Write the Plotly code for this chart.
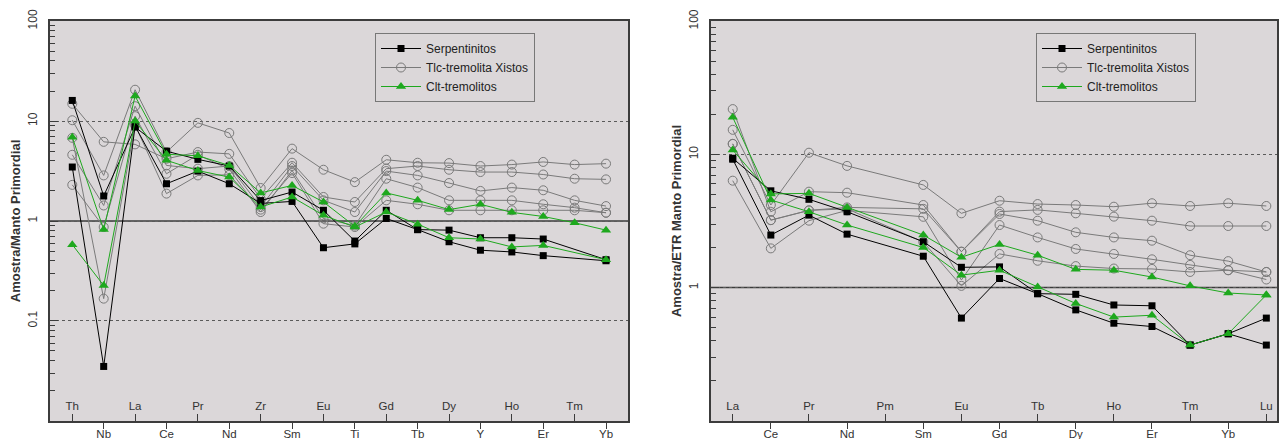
import plotly.graph_objects as go

# ---------------- data ----------------
SPIDER_ELEMENTS = ["Th", "Nb", "La", "Ce", "Pr", "Nd", "Zr", "Sm", "Eu", "Ti",
                   "Gd", "Tb", "Dy", "Y", "Ho", "Er", "Tm", "Yb"]
REE_ELEMENTS = ["La", "Ce", "Pr", "Nd", "Pm", "Sm", "Eu", "Gd", "Tb", "Dy",
                "Ho", "Er", "Tm", "Yb", "Lu"]

N = None
# Left: multi-element diagram normalised to primitive mantle
SPIDER_SERP = [
    [16.1, 1.78, 8.7, 5.0, 4.14, 3.55, 1.6, 1.95, 1.28, 0.63, 1.28, 0.82, 0.81, 0.68, 0.68, 0.66, N, 0.41],
    [3.47, 0.035, 8.9, 2.36, 3.16, 2.36, 1.5, 1.57, 0.54, 0.59, 1.06, 0.82, 0.62, 0.51, 0.49, 0.45, N, 0.40],
]
SPIDER_TLC = [
    [10.2, 2.86, 20.6, 4.9, 9.6, 7.6, 2.14, 5.3, 3.26, 2.45, 4.1, 3.83, 3.8, 3.55, 3.67, 3.9, 3.67, 3.75],
    [14.9, 6.2, 5.85, 4.2, 4.9, 4.7, 1.67, 3.83, 1.74, 1.55, 3.34, 3.55, 3.26, 3.09, 3.09, 2.92, 2.65, 2.61],
    [4.6, 1.43, 14.1, 3.6, 3.34, 3.55, 1.38, 3.55, 1.61, 1.23, 3.16, 2.86, 2.4, 2.0, 2.16, 2.03, 1.61, 1.41],
    [2.3, 0.87, 11.2, 2.97, 4.6, 3.3, 1.23, 3.2, 1.06, 0.9, 2.65, 2.16, 1.61, 1.61, 1.61, 1.47, 1.36, 1.21],
    [6.8, 0.167, 9.1, 1.88, 2.86, 2.9, 1.3, 3.02, 0.94, 0.87, 1.61, 1.47, 1.28, 1.28, 1.28, 1.28, 1.28, 1.21],
]
SPIDER_CLT = [
    [6.9, 0.82, 17.8, 4.65, 4.5, 3.6, 1.91, 2.27, 1.55, 0.885, 1.91, 1.61, 1.3, 1.47, 1.22, 1.11, 0.96, 0.81],
    [0.58, 0.226, 10.0, 4.05, 3.2, 2.75, 1.38, 1.74, 1.14, 0.87, 1.23, 0.93, 0.68, 0.66, 0.55, 0.57, N, 0.41],
]

# Right: REE diagram normalised to primitive mantle (Pm not analysed)
REE_SERP = [
    [9.36, 5.33, 4.6, 3.71, N, 2.21, 1.42, 1.43, 0.90, 0.89, 0.74, 0.73, 0.37, 0.45, 0.59],
    [9.2, 2.48, 3.5, 2.52, N, 1.72, 0.59, 1.17, 0.90, 0.68, 0.54, 0.51, 0.37, 0.45, 0.37],
]
REE_TLC = [
    [15.3, 4.17, 10.3, 8.2, N, 5.9, 3.61, 4.49, 4.24, 4.17, 4.05, 4.3, 4.1, 4.3, 4.1],
    [21.9, 3.71, 5.25, 5.16, N, 4.17, 1.86, 3.72, 3.83, 3.61, 3.41, 3.18, 2.9, 2.9, 2.9],
    [12.0, 3.21, 3.8, 4.0, N, 3.9, 1.86, 3.57, 3.18, 2.6, 2.38, 2.25, 1.75, 1.58, 1.31],
    [6.35, 1.97, 3.18, 3.8, N, 3.4, 1.14, 2.95, 2.38, 1.95, 1.79, 1.63, 1.48, 1.35, 1.15],
    [12.0, 3.21, 3.8, 3.9, N, 2.2, 1.03, 1.79, 1.59, 1.45, 1.39, 1.38, 1.31, 1.35, 1.31],
]
REE_CLT = [
    [19.0, 4.55, 3.71, 2.95, N, 2.0, 1.24, 1.35, 1.01, 0.76, 0.60, 0.62, 0.37, 0.45, 0.88],
    [10.8, 5.05, 5.1, 4.0, N, 2.48, 1.69, 2.11, 1.75, 1.37, 1.35, 1.2, 1.03, 0.91, 0.88],
]

GROUP_NAMES = ["Serpentinitos", "Tlc-tremolita Xistos", "Clt-tremolitos"]
REF_LEVEL = 1

# ---------------- style ----------------
FONT = "Liberation Sans, Arial, sans-serif"
PLOT_BG = "#dbd7d9"
GREEN = "#1ea81e"
STYLES = {
    "Serpentinitos": dict(line=dict(color="#000000", width=1),
                          marker=dict(symbol="square", size=7, color="#000000")),
    "Tlc-tremolita Xistos": dict(line=dict(color="#7a7a7a", width=1),
                                 marker=dict(symbol="circle-open", size=9, color="#7a7a7a",
                                             line=dict(width=1, color="#7a7a7a"))),
    "Clt-tremolitos": dict(line=dict(color=GREEN, width=1),
                           marker=dict(symbol="triangle-up", size=9, color=GREEN)),
}
RANK = {"Serpentinitos": 1, "Tlc-tremolita Xistos": 2, "Clt-tremolitos": 3}

fig = go.Figure()


def add_group(samples, elements, name, xa, ya, legend):
    xs = list(range(len(elements)))
    for i, vals in enumerate(samples):
        st = STYLES[name]
        fig.add_trace(go.Scatter(
            x=xs, y=vals, xaxis=xa, yaxis=ya, mode="lines+markers",
            name=name, legendgroup=legend + name, showlegend=(i == 0),
            legend=legend, legendrank=RANK[name], connectgaps=True,
            line=st["line"], marker=st["marker"], hoverinfo="skip"))


add_group(SPIDER_TLC, SPIDER_ELEMENTS, GROUP_NAMES[1], "x", "y", "legend")
add_group(SPIDER_SERP, SPIDER_ELEMENTS, GROUP_NAMES[0], "x", "y", "legend")
add_group(SPIDER_CLT, SPIDER_ELEMENTS, GROUP_NAMES[2], "x", "y", "legend")
add_group(REE_TLC, REE_ELEMENTS, GROUP_NAMES[1], "x2", "y2", "legend2")
add_group(REE_SERP, REE_ELEMENTS, GROUP_NAMES[0], "x2", "y2", "legend2")
add_group(REE_CLT, REE_ELEMENTS, GROUP_NAMES[2], "x2", "y2", "legend2")

W, H = 1279, 439
L_DOM = [50 / W, 628 / W]
R_DOM = [711 / W, 1277 / W]
L_RANGE = [-0.71, 17.7]
R_RANGE = [-0.57, 14.28]

tickfont = dict(family=FONT, size=12, color="#333333")
xtickfont = dict(family=FONT, size=11.5, color="#333333")
AX_LINE = dict(showline=True, linecolor="#3c3c3c", linewidth=1.5, mirror=True,
               automargin=False)


def x_outer(elements, domain, rng, anchor):
    idx = [i for i in range(len(elements)) if i % 2 == 1]
    return dict(domain=domain, range=rng, anchor=anchor, tickmode="array",
                tickvals=idx, ticktext=[elements[i] for i in idx],
                ticks="outside", ticklen=6, tickcolor="#3c3c3c", tickwidth=1.2,
                ticklabelstandoff=-5,
                showgrid=False, zeroline=False, tickfont=xtickfont, **AX_LINE)


def x_inner(elements, rng, over, anchor):
    idx = [i for i in range(len(elements)) if i % 2 == 0]
    return dict(overlaying=over, anchor=anchor, range=rng, tickmode="array",
                tickvals=idx, ticktext=[elements[i] for i in idx],
                ticks="inside", ticklen=7, tickcolor="#3c3c3c", tickwidth=1.2,
                ticklabelposition="inside", ticklabelstandoff=1,
                showgrid=False, zeroline=False,
                showline=False, automargin=False, tickfont=xtickfont)


def y_axis(rng, tickvals, ticktext, title, anchor):
    return dict(domain=[0, 1], type="log", range=rng, anchor=anchor,
                tickmode="array", tickvals=tickvals, ticktext=ticktext,
                tickangle=-90, ticks="inside", ticklen=8, tickcolor="#3c3c3c",
                minor=dict(ticks="inside", ticklen=5, tickcolor="#3c3c3c",
                           dtick="D1", showgrid=False),
                showgrid=True, gridcolor="#5a5a5a", griddash="dot", gridwidth=1,
                zeroline=False, tickfont=tickfont, ticklabelstandoff=6,
                title=dict(text="<b>" + title + "</b>", standoff=3,
                           font=dict(family=FONT, size=13, color="#333333")),
                **AX_LINE)


legend_common = dict(bgcolor=PLOT_BG, bordercolor="#777777", borderwidth=1,
                     font=dict(family=FONT, size=12, color="#222222"),
                     itemwidth=40, xanchor="left", yanchor="top",
                     tracegroupgap=0, traceorder="normal")

fig.update_layout(
    width=W, height=H,
    margin=dict(l=0, r=0, t=21, b=18, autoexpand=False),
    paper_bgcolor="white", plot_bgcolor=PLOT_BG,
    font=dict(family=FONT, size=12, color="#333333"),
    showlegend=True,
    xaxis=x_outer(SPIDER_ELEMENTS, L_DOM, L_RANGE, "y"),
    xaxis3=x_inner(SPIDER_ELEMENTS, L_RANGE, "x", "y"),
    xaxis2=x_outer(REE_ELEMENTS, R_DOM, R_RANGE, "y2"),
    xaxis4=x_inner(REE_ELEMENTS, R_RANGE, "x2", "y2"),
    yaxis=y_axis([-2.002, 2.002], [0.01, 0.1, 1, 10, 100],
                 ["0.01", "0.1", "1", "10", "100"],
                 "Amostra/Manto Primordial", "x"),
    yaxis2=y_axis([-1.002, 2.002], [0.1, 1, 10, 100], ["0.1", "1", "10", "100"],
                  "Amostra/ETR Manto Primordial", "x2"),
    legend=dict(x=375 / W, y=0.97, **legend_common),
    legend2=dict(x=1036 / W, y=0.97, **legend_common),
)

# reference line at the normalisation level (sample = mantle)
for xr, yr in (("x", "y"), ("x2", "y2")):
    fig.add_shape(type="line", xref=xr + " domain", x0=0, x1=1, yref=yr,
                  y0=REF_LEVEL, y1=REF_LEVEL, line=dict(color="#3c3c3c", width=1.5),
                  layer="below")

# empty traces so the overlaid tick axes are rendered
fig.add_trace(go.Scatter(x=[], y=[], xaxis="x3", yaxis="y", showlegend=False))
fig.add_trace(go.Scatter(x=[], y=[], xaxis="x4", yaxis="y2", showlegend=False))

fig.write_html(
    "out.html",
    config={"displayModeBar": False},
    post_script="document.body.style.margin='0px';document.body.style.overflow='hidden';",
)
